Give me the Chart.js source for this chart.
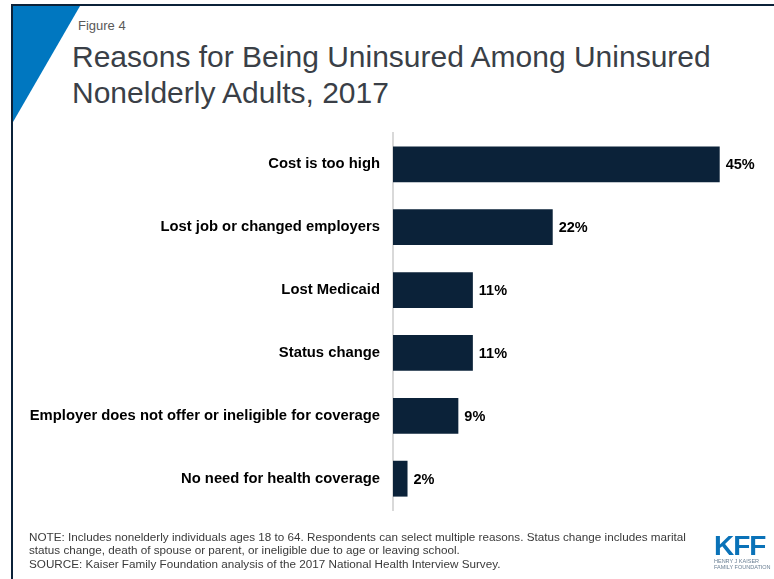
<!DOCTYPE html>
<html>
<head>
<meta charset="utf-8">
<script src="https://cdn.jsdelivr.net/npm/chart.js@4/dist/chart.umd.min.js"></script>
<style>
  html, body { margin: 0; padding: 0; background: #fff; }
  body { width: 774px; height: 579px; position: relative; overflow: hidden; font-family: "Liberation Sans", Arial, sans-serif; }
  .frame { position: absolute; left: 11px; top: 4px; right: 0; bottom: 0; border-left: 2px solid #0b2239; border-top: 2px solid #0b2239; }
  .tri { position: absolute; left: 13px; top: 6px; width: 0; height: 0; border-top: 116px solid #0077c0; border-right: 67px solid transparent; }
  .fig { position: absolute; left: 78px; top: 18px; font-size: 13px; color: #595959; }
  .title { position: absolute; left: 72px; top: 39px; font-size: 30px; line-height: 36px; color: #3a3f47; white-space: nowrap; }
  .chart { position: absolute; left: 0; top: 111px; width: 774px; height: 421px; }
  .note { position: absolute; left: 29px; top: 530px; font-size: 11.7px; line-height: 13.3px; color: #3a3a3a; white-space: nowrap; }
  .logo { position: absolute; left: 714px; top: 533px; width: 56px; }
  .logo .kff { font-size: 28px; font-weight: bold; color: #0a72b8; line-height: 25px; letter-spacing: -1px; }
  .logo .sub { font-size: 5.5px; line-height: 6px; color: #6a7f93; white-space: nowrap; }
</style>
</head>
<body>
<div class="frame"></div>
<div class="tri"></div>
<div class="fig">Figure 4</div>
<div class="title">Reasons for Being Uninsured Among Uninsured<br>Nonelderly Adults, 2017</div>
<div class="chart"><canvas id="reasons"></canvas></div>
<div class="note">NOTE: Includes nonelderly individuals ages 18 to 64. Respondents can select multiple reasons. Status change includes marital<br>status change, death of spouse or parent, or ineligible due to age or leaving school.<br>SOURCE: Kaiser Family Foundation analysis of the 2017 National Health Interview Survey.</div>
<div class="logo"><div class="kff">KFF</div><div class="sub">HENRY J KAISER<br>FAMILY FOUNDATION</div></div>
<script>
var reasons = ['Cost is too high', 'Lost job or changed employers', 'Lost Medicaid', 'Status change', 'Employer does not offer or ineligible for coverage', 'No need for health coverage'];
var shares = [45, 22, 11, 11, 9, 2];

// value labels at the end of each bar
var endLabels = {
    id: 'endLabels',
    afterDatasetsDraw: function (chart) {
        var ctx = chart.ctx;
        var meta = chart.getDatasetMeta(0);
        ctx.save();
        ctx.font = 'bold 14.5px "Liberation Sans", Arial, sans-serif';
        ctx.fillStyle = '#000';
        ctx.textBaseline = 'middle';
        ctx.textAlign = 'left';
        meta.data.forEach(function (bar, i) {
            ctx.fillText(shares[i] + '%', bar.x + 6, bar.y + 1);
        });
        ctx.restore();
    }
};

new Chart(document.getElementById('reasons'), {
    type: 'bar',
    data: {
        labels: reasons,
        datasets: [{
            data: shares,
            backgroundColor: '#0b2239',
            borderWidth: 0,
            categoryPercentage: 1,
            barPercentage: 0.57
        }]
    },
    options: {
        indexAxis: 'y',
        responsive: true,
        maintainAspectRatio: false,
        animation: false,
        layout: { padding: { left: 0, right: 18, top: 0, bottom: 0 } },
        plugins: { legend: { display: false }, tooltip: { enabled: false } },
        scales: {
            x: { display: false, min: 0, max: 50 },
            y: {
                afterFit: function (scale) { scale.width = 393; },
                grid: { display: false, drawTicks: false },
                border: { display: true, color: '#d9d9d9', width: 2 },
                ticks: {
                    padding: 13,
                    color: '#000',
                    font: { family: '"Liberation Sans", Arial, sans-serif', size: 14.8, weight: 'bold' }
                }
            }
        }
    },
    plugins: [endLabels]
});
</script>
</body>
</html>
